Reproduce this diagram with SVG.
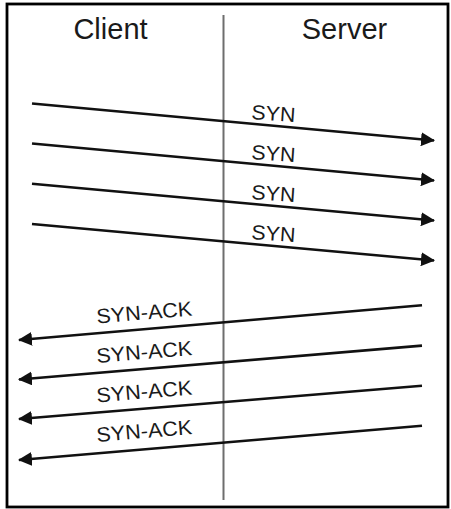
<svg xmlns="http://www.w3.org/2000/svg" width="451" height="509" viewBox="0 0 451 509">
<style>
.hdr{font-family:"Liberation Sans",Arial,sans-serif;font-size:29px;fill:#1a1a1a;text-anchor:middle}
.lbl{font-family:"Liberation Sans",Arial,sans-serif;font-size:20.5px;fill:#1a1a1a}
.msg{stroke:#111;stroke-width:2.6;fill:none;marker-end:url(#arr)}
</style>
<defs>
<marker id="arr" markerUnits="userSpaceOnUse" markerWidth="14" markerHeight="14" viewBox="0 0 14 14" refX="13" refY="7" orient="auto">
<path d="M0,0 L14,7 L0,14 Z" fill="#111"/>
</marker>
</defs>
<rect x="0" y="0" width="451" height="509" fill="#fff"/>
<rect id="frame" x="7" y="4" width="441" height="503" fill="none" stroke="#000" stroke-width="2.8"/>
<g id="client"><text class="hdr" x="110.5" y="38.5">Client</text></g>
<g id="server"><text class="hdr" x="344.5" y="38.5">Server</text></g>
<g id="divider"><line x1="223.5" y1="15" x2="223.5" y2="500" stroke="#6e6e6e" stroke-width="2"/></g>
<g id="connectors">
<line class="msg" x1="32" y1="103.5" x2="434" y2="140.5"/>
<line class="msg" x1="32" y1="143.5" x2="434" y2="180.5"/>
<line class="msg" x1="32" y1="183.8" x2="434" y2="220.5"/>
<line class="msg" x1="32" y1="224" x2="434" y2="260.5"/>
<line class="msg" x1="422" y1="305.3" x2="19" y2="340"/>
<line class="msg" x1="422" y1="345.6" x2="19" y2="379.5"/>
<line class="msg" x1="422" y1="385.8" x2="19" y2="419"/>
<line class="msg" x1="422" y1="425.7" x2="19" y2="460"/>
</g>
<g id="labels">
<text class="lbl" transform="translate(251,119) rotate(4)" textLength="44" lengthAdjust="spacingAndGlyphs">SYN</text>
<text class="lbl" transform="translate(251,159) rotate(4)" textLength="44" lengthAdjust="spacingAndGlyphs">SYN</text>
<text class="lbl" transform="translate(251,199) rotate(4)" textLength="44" lengthAdjust="spacingAndGlyphs">SYN</text>
<text class="lbl" transform="translate(251,239) rotate(4)" textLength="44" lengthAdjust="spacingAndGlyphs">SYN</text>
<text class="lbl" transform="translate(97,323.5) rotate(-4.8)" textLength="96" lengthAdjust="spacingAndGlyphs">SYN-ACK</text>
<text class="lbl" transform="translate(97,363) rotate(-4.8)" textLength="96" lengthAdjust="spacingAndGlyphs">SYN-ACK</text>
<text class="lbl" transform="translate(97,402.5) rotate(-4.8)" textLength="96" lengthAdjust="spacingAndGlyphs">SYN-ACK</text>
<text class="lbl" transform="translate(97,442) rotate(-4.8)" textLength="96" lengthAdjust="spacingAndGlyphs">SYN-ACK</text>
</g>
</svg>
